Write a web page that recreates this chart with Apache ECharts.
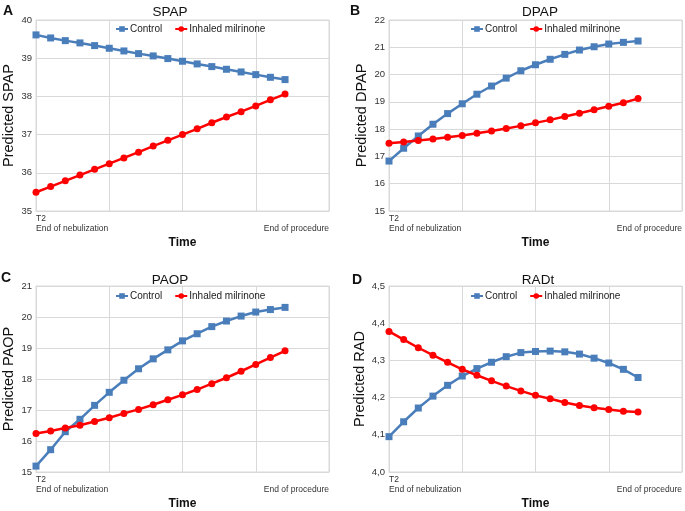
<!DOCTYPE html>
<html><head><meta charset="utf-8">
<script src="https://cdn.jsdelivr.net/npm/echarts@6/dist/echarts.min.js"></script>
<style>html,body{margin:0;padding:0;background:#fff}#c{width:685px;height:511px}</style>
</head><body><div id="c"></div>
<script>
// time points (index along the x axis, 0 = T2 end of nebulization)
var timeIdx = [0,1,2,3,4,5,6,7,8,9,10,11,12,13,14,15,16,17];
var seriesNames = ['Control', 'Inhaled milrinone'];
var panelTitles = ['SPAP', 'DPAP', 'PAOP', 'RADt'];
var panelLetters = ['A', 'B', 'C', 'D'];
var yNames = ['Predicted SPAP', 'Predicted DPAP', 'Predicted PAOP', 'Predicted RAD'];
var xStartLabel = 'T2\nEnd of nebulization';
var xEndLabel = 'End of procedure';

var spapControl = [39.61,39.53,39.46,39.40,39.33,39.26,39.19,39.12,39.06,38.99,38.92,38.85,38.78,38.71,38.64,38.57,38.50,38.44];
var spapMilr    = [35.49,35.64,35.79,35.94,36.09,36.24,36.39,36.54,36.70,36.85,37.00,37.15,37.31,37.46,37.60,37.75,37.91,38.06];
var dpapControl = [16.83,17.30,17.75,18.18,18.57,18.93,19.28,19.58,19.87,20.14,20.36,20.56,20.74,20.90,21.02,21.12,21.18,21.23];
var dpapMilr    = [17.48,17.53,17.58,17.64,17.70,17.77,17.85,17.93,18.02,18.12,18.23,18.34,18.46,18.58,18.71,18.84,18.97,19.12];
var paopControl = [15.19,15.72,16.30,16.70,17.15,17.57,17.96,18.33,18.65,18.94,19.23,19.46,19.69,19.87,20.03,20.16,20.24,20.31];
var paopMilr    = [16.24,16.32,16.42,16.51,16.63,16.75,16.89,17.02,17.17,17.33,17.49,17.66,17.85,18.04,18.25,18.47,18.69,18.91];
var radControl  = [4.095,4.135,4.172,4.204,4.233,4.258,4.278,4.295,4.310,4.321,4.324,4.325,4.323,4.317,4.306,4.293,4.276,4.254];
var radMilr     = [4.378,4.356,4.334,4.314,4.295,4.276,4.260,4.245,4.231,4.218,4.206,4.197,4.187,4.179,4.173,4.168,4.163,4.161];

var yRanges = [[35,40,1],[15,22,1],[15,21,1],[4.0,4.5,0.1]];
var controlData = [spapControl, dpapControl, paopControl, radControl];
var milrData = [spapMilr, dpapMilr, paopMilr, radMilr];

var BLUE = '#4a7ebb', RED = '#ff0000', GRID = '#d9d9d9';
var FONT = 'Liberation Sans, Arial, sans-serif';

// layout
var grids = [
  {left:34, top:20, width:295, height:191},
  {left:389, top:20, width:293, height:191},
  {left:34, top:286, width:295, height:191},
  {left:389, top:286, width:293, height:191}
];
var titlePos = [[165,0],[535,0],[165,268],[533,268]];
var letterPos = [[3,4],[350,4],[1,271],[352,273]];
var legendPos = [[115,24],[470,24],[115,291],[470,291]];

function pairs(arr){ return timeIdx.map(function(t,i){ return [t, arr[i]]; }); }

var option = {
  animation:false,
  backgroundColor:'#fff',
  textStyle:{fontFamily:FONT},
  title:[], grid:[], xAxis:[], yAxis:[], series:[], legend:[], graphic:[]
};

for (var p=0;p<4;p++){
  var g = grids[p];
  option.grid.push({left:g.left, top:g.top, width:g.width, height:g.height, show:true, borderColor:GRID, borderWidth:1, containLabel:false});
  option.title.push({text:panelTitles[p], left:titlePos[p][0], top:titlePos[p][1], textAlign:'center',
    textStyle:{fontSize:13.5, fontWeight:'normal', color:'#111', fontFamily:FONT}});
  option.graphic.push({type:'text', left:letterPos[p][0], top:letterPos[p][1],
    style:{text:panelLetters[p], font:'bold 14px '+FONT, fill:'#111'}});
  option.xAxis.push({
    type:'value', gridIndex:p, min:0, max:20, interval:5,
    name:'Time', nameLocation:'middle', nameGap:26,
    nameTextStyle:{fontSize:12, fontWeight:'bold', color:'#111', fontFamily:FONT},
    axisLine:{show:true, lineStyle:{color:GRID}},
    axisTick:{show:false},
    splitLine:{show:true, lineStyle:{color:GRID}},
    axisLabel:{
      fontSize:8.5, color:'#333', margin:3, lineHeight:10, fontFamily:FONT,
      alignMinLabel:'left', alignMaxLabel:'right', verticalAlign:'top',
      formatter:function(v){ if(v===0) return xStartLabel; if(v===20) return '\n'+xEndLabel; return ''; }
    }
  });
  var dec = (p===3);
  option.yAxis.push({
    type:'value', gridIndex:p, min:yRanges[p][0], max:yRanges[p][1], interval:yRanges[p][2],
    name:yNames[p], nameLocation:'middle', nameGap:20,
    nameTextStyle:{fontSize:14.5, color:'#111', fontFamily:FONT},
    axisLine:{show:true, lineStyle:{color:GRID}},
    axisTick:{show:false},
    splitLine:{show:true, lineStyle:{color:GRID}},
    axisLabel:{fontSize:9.5, color:'#333', margin:4, fontFamily:FONT,
      formatter: dec ? function(v){ return v.toFixed(1).replace('.',','); } : function(v){ return String(v); }}
  });
  option.series.push({
    name:seriesNames[0], type:'line', xAxisIndex:p, yAxisIndex:p, data:pairs(controlData[p]),
    symbol:'rect', symbolSize:7, lineStyle:{color:BLUE, width:2.5}, itemStyle:{color:BLUE}, z:3
  });
  option.series.push({
    name:seriesNames[1], type:'line', xAxisIndex:p, yAxisIndex:p, data:pairs(milrData[p]),
    symbol:'circle', symbolSize:7, lineStyle:{color:RED, width:2.5}, itemStyle:{color:RED}, z:4
  });
  option.legend.push({
    data:seriesNames, left:legendPos[p][0], top:legendPos[p][1], itemWidth:12, itemHeight:7, itemGap:12,
    textStyle:{fontSize:10, color:'#222', fontFamily:FONT, padding:[0,0,0,-3]}, padding:0, selectedMode:false
  });
}

var chart = echarts.init(document.getElementById('c'), null, {renderer:'canvas'});
chart.setOption(option);
</script>
</body></html>
